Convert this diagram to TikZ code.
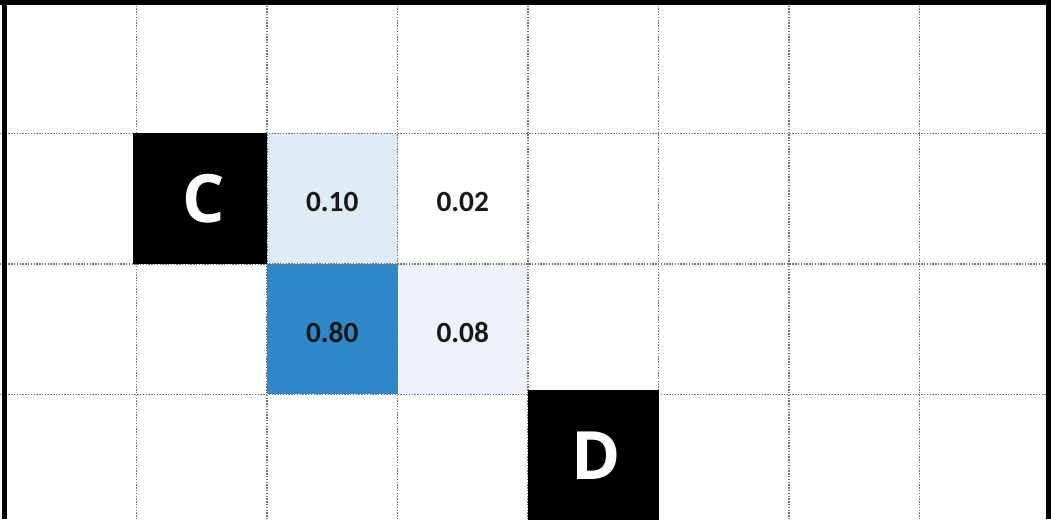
\documentclass[tikz,border=0pt]{standalone}
\usepackage{fontspec}
\setmainfont{Carlito}
\newfontfamily\letterfont{Open Sans}
\newcommand{\lowered}[1]{\raisebox{-2.2pt}[\height][\depth]{#1}}
\begin{document}
\begin{tikzpicture}[x=0.75pt,y=-0.75pt,
  gridline/.style={draw=black!55,line width=1.1pt,densely dotted},
  cell/.style={minimum width=130.5*0.75pt,minimum height=130.5*0.75pt,inner sep=0pt,outer sep=0pt,anchor=north west},
  numcell/.style={cell,font=\fontsize{22}{22}\selectfont\bfseries,text=black!90},
  endcell/.style={inner sep=0pt,outer sep=0pt,fill=black,text=white,font=\letterfont\fontsize{50}{50}\selectfont\bfseries},
  frame/.style={fill=black}]
\useasboundingbox (0,0) rectangle (1051,519);
\fill[white] (0,0) rectangle (1051,519);
% coloured cells
\node[numcell,fill={rgb,255:red,223;green,235;blue,245}] (c10) at (267,133.3) {\lowered{0.10}};
\node[numcell] (c02) at (397.5,133.3) {\lowered{0.02}};
\node[numcell,fill={rgb,255:red,47;green,136;blue,200}] (c80) at (267,263.8) {\lowered{0.80}};
\node[numcell,fill={rgb,255:red,238;green,243;blue,251}] (c08) at (397.5,263.8) {\lowered{0.08}};
% grid
\foreach \i in {1,...,7} \draw[gridline] (6+130.5*\i,0) -- (6+130.5*\i,519);
\foreach \j in {1,2,3} \draw[gridline] (0,2.8+130.5*\j) -- (1051,2.8+130.5*\j);
% start and end cells
\node[endcell,minimum width=134*0.75pt,minimum height=131*0.75pt] (C) at (200,198.5) {\hspace{6pt}C};
\node[endcell,minimum width=131*0.75pt,minimum height=135*0.75pt,anchor=north] (D) at (593.5,390) {};
\node[text=white,font=\letterfont\fontsize{50}{50}\selectfont\bfseries,inner sep=0pt] (Dl) at (596,456) {D};
% frame
\fill[frame] (0,0) rectangle (1051,4.5);
\fill[frame] (2,0) rectangle (7,519);
\fill[frame] (1046,0) rectangle (1051,519);
\end{tikzpicture}
\end{document}
